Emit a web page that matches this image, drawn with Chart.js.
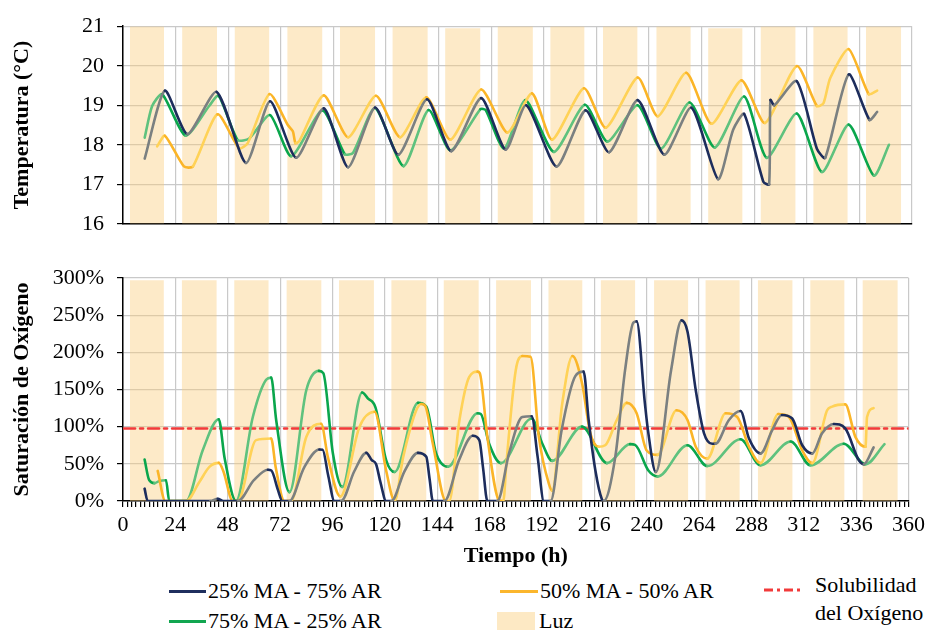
<!DOCTYPE html>
<html>
<head>
<meta charset="utf-8">
<script src="https://cdn.jsdelivr.net/npm/chart.js@4.4.0/dist/chart.umd.min.js"></script>
<style>
  body { margin: 0; background: #fff; width: 930px; height: 633px; position: relative; overflow: hidden;
         font-family: 'Liberation Serif', 'DejaVu Serif', serif; }
  canvas { position: absolute; left: 0; }
  #top { top: 0; }
  #bot { top: 250px; }
  .leg { position: absolute; font-size: 22px; line-height: 24px; color: #000; white-space: nowrap; }
  .sw { position: absolute; height: 3px; }
</style>
</head>
<body>
<canvas id="top" width="930" height="250"></canvas>
<canvas id="bot" width="930" height="320"></canvas>

<div class="sw" style="left:169px;top:590px;width:37px;background:#1f2f5e"></div>
<div class="leg" style="left:208px;top:579px">25% MA - 75% AR</div>
<div class="sw" style="left:169px;top:620px;width:37px;background:#12a650"></div>
<div class="leg" style="left:208px;top:609px">75% MA - 25% AR</div>
<div class="sw" style="left:500px;top:590px;width:38px;background:#fbb62d"></div>
<div class="leg" style="left:540px;top:579px">50% MA - 50% AR</div>
<div style="position:absolute;left:497px;top:612px;width:38px;height:18px;background:#fde9c4"></div>
<div class="leg" style="left:539px;top:609px">Luz</div>
<svg style="position:absolute;left:764px;top:586px" width="38" height="8">
  <line x1="0" y1="4" x2="38" y2="4" stroke="#f23a3a" stroke-width="3" stroke-dasharray="9 4 3 4"/>
</svg>
<div class="leg" style="left:815px;top:573px">Solubilidad</div>
<div class="leg" style="left:815px;top:601px">del Oxígeno</div>

<script>
// light periods (h)
const lightStart = [3.2, 27, 51, 75, 99, 123, 147, 171, 195, 219, 243.4, 267, 291, 315, 339];
const lightEnd   = [18.7, 42.9, 66.7, 90.9, 115, 139, 163, 187, 210.5, 234.7, 259, 282.6, 306.8, 330.6, 355];
const lightTopTemp = [21, 21, 21, 21, 21, 21, 20.95, 21, 21, 21, 21, 20.95, 21, 21, 21];
const lightTopSat = 297;

const solubility = 97.5;

// temperature (°C)
const tempA_h = [9.9,19.1,29.4,42.7,56.1,67.1,79,91.6,102.7,115,125.7,138.7,149.8,163.4,174.6,184,197.8,211,221.8,234.8,247,259.3,271.5,278.4,283.4,292.2,294.8,295.4,297.2,307.4,316.6,320.4,331.1,340.6,344.1];
const tempA   = [17.65,19.37,18.27,19.34,17.54,19.10,17.67,18.92,17.43,18.94,17.75,19.15,17.84,19.18,17.88,19.0,17.45,18.87,17.81,19.13,17.75,18.94,17.13,18.38,18.78,17.06,17.0,19.13,19.0,19.61,17.9,17.67,19.78,18.63,18.83];
const tempB_h = [15.6,19.1,27.8,31.9,43.1,53,56.9,66.8,75.2,77.5,78.7,80.5,91.6,102.7,115.4,126.4,138.4,149.4,163.4,175.4,186.6,195.8,210.3,220.3,234.8,244,257,268.5,282.2,292.9,307.4,316.6,319.6,322.7,331.1,340.3,344.1];
const tempB   = [17.96,18.23,17.45,17.45,18.77,17.91,18.04,19.28,18.5,18.34,18.04,18.1,19.25,18.19,19.24,18.19,19.2,18.13,19.40,18.31,19.30,18.13,19.43,18.43,19.70,18.72,19.82,18.53,19.63,18.55,19.99,18.98,19.05,19.69,20.42,19.28,19.37];
const tempC_h = [9.9,13.3,17.9,28.6,39.3,43.6,52.3,57.6,67.1,76.8,91,101.2,105,115,128,139.4,149.4,163.1,165.5,173.9,183.6,196.6,210.7,221,234.8,245.5,258.5,270,283.4,293.7,307.4,318.9,331.1,342.6,349.5];
const tempC   = [18.18,18.98,19.28,18.23,18.98,19.24,18.12,18.16,18.75,17.71,18.87,17.76,17.8,18.93,17.46,18.88,17.86,18.9,18.88,17.9,19.13,17.82,19.01,18.08,19.0,17.90,19.07,17.93,19.22,17.67,18.79,17.31,18.51,17.22,18.0];

// oxygen saturation (%)
const satA_h = [9.9,11.3,20,40,43.4,46,52.6,60,66.4,68,71,73,76.3,83,90,91.5,94,96.9,100,106,111.5,114,116,118,120.6,123,129,135.2,139,140.5,142,147.3,154,160.3,163.3,165,167,171.6,177,183,187.3,190,192.9,196,201,207.3,211.1,213.4,216.5,219.5,220.3,225.6,230.1,233.9,235.4,239.2,240.6,244.2,251.2,256,258.7,262.5,266.3,270,271.5,277.7,283,286.9,292.2,297.5,302,306.7,311.3,315.9,320.4,325.8,331,337.2,339.5,344];
const satA   = [16.6,0,0,0,3,0,0,28,42,41,15,0,0,45,69.3,69,35,0,0,40,64.8,55,49.5,25,0,0,40,64.8,59.4,30,0,0,55,87.7,81.9,45,0,0,65,113,114,60,0,0,95,168,174,109,41,2,0,59,176,240,241.6,131,95,39,176,243,228,149,91,77,77,109,121,84,64,95,115.6,111,75,64,91,103.5,97.6,55,49.5,72];
const satB_h = [15.9,19.4,28.9,35,39.6,43.9,46,50.3,52.6,61,67.9,70,74,77,84,90.8,93.9,99.6,108.4,115.3,120.6,124.5,128.4,134.4,136.7,138.5,142,148,149.5,154.2,158.7,162.5,163.5,167,172.4,174.3,175.7,180,183,186.8,190.6,195.2,196.7,201.3,206,210.4,214.2,218,221,226.3,230.9,235.4,240,245,253.7,258.7,262.5,267.8,276.2,281.5,286.9,292.2,300.3,305.2,311.3,315.9,322.7,325,331,335.7,340.3,341,344];
const satB   = [40.5,0,0,25.6,45.9,51.3,40,0,0,81.9,84,45,0,0,86,104,59,6,100,120,41,0,59,122,130.5,128,77,0,0,109,167,174,172,86,1,0,50,176,195,194,86,23,14,131,195,158,91,73,75,109,132,118,68,62,122,109,73,57,118,113,73,51,117,113,68,51,122,127,130,86,73,113,125];
const satC_h = [9.9,12,14.4,16.7,19.7,21.2,28.9,36.5,43.9,46.5,51.8,59.5,65.6,67.9,70.2,76.3,84,89.8,91.8,96.2,100.5,109.6,112.2,115.7,120.6,124.5,135.2,139,143.5,148.9,162.5,164,167.8,173.2,187.3,192.2,196.7,210.4,221.8,232.4,234.7,240.8,245,258.7,267.8,283,292.2,306,315.1,330.3,340.3,349];
const satC   = [55.8,28,24,27,28,0,0,68,110,59,0,113,163,166,109,12,149,175,172,64,19,146,138,126,55,39,132,127,64,46,118,117,77,51,111,77,54,100,51,76.5,75.5,41,33,75,47,83,48,80,48,77,49.5,76.5];

const xTicks = [0, 24, 48, 72, 96, 120, 144, 168, 192, 216, 240, 264, 288, 312, 336, 360];

const FONT = "'Liberation Serif', 'DejaVu Serif', serif";
const GRID = '#c9c9c9';

function pts(h, v) { return h.map((x, i) => ({ x, y: v[i] })); }

function series(h, v, up, down, smooth) {
  const ds = {
    data: pts(h, v),
    borderColor: down,
    segment: { borderColor: c => c.p1.parsed.y > c.p0.parsed.y ? up : down },
    borderWidth: 2.6,
    pointRadius: 0,
    fill: false,
    order: 1
  };
  if (smooth) ds.cubicInterpolationMode = 'monotone';
  else ds.tension = 0.22;
  return ds;
}

function bands(tops, bottom) {
  const d = [{ x: 0, y: bottom }];
  lightStart.forEach((s, i) => {
    const t = Array.isArray(tops) ? tops[i] : tops;
    d.push({ x: s, y: bottom }, { x: s, y: t }, { x: lightEnd[i], y: t }, { x: lightEnd[i], y: bottom });
  });
  d.push({ x: 360, y: bottom });
  return {
    data: d, borderWidth: 0, pointRadius: 0, tension: 0,
    fill: 'start', backgroundColor: 'rgba(250,205,125,0.42)', order: 10
  };
}

const common = {
  responsive: false,
  animation: false,
  devicePixelRatio: 1,
  plugins: { legend: { display: false }, tooltip: { enabled: false } },
  elements: { line: { borderCapStyle: 'round', borderJoinStyle: 'round' } }
};

function yAxis(min, max, step, title, fmt) {
  return {
    min, max,
    afterFit: s => { s.width = 123; },
    ticks: { stepSize: step, color: '#000', font: { family: FONT, size: 22 }, padding: 13, callback: fmt },
    grid: { color: GRID, lineWidth: 1.2, tickLength: 6, tickColor: '#000', tickWidth: 1.2 },
    border: { color: '#000', width: 1.5 },
    title: { display: true, text: title, color: '#000', font: { family: FONT, size: 22, weight: 'bold' }, padding: { top: 9, bottom: 0 } }
  };
}

new Chart(document.getElementById('top'), {
  type: 'line',
  data: {
    datasets: [
      series(tempA_h, tempA, '#7b8081', '#1d2d5c', false),
      series(tempB_h, tempB, '#ffd257', '#fbb528', false),
      series(tempC_h, tempC, '#5fc27e', '#0aa64c', false),
      bands(lightTopTemp, 16)
    ]
  },
  options: {
    ...common,
    layout: { padding: { top: 17, right: 18, left: 0, bottom: 0 } },
    scales: {
      x: {
        type: 'linear', min: 0, max: 360,
        afterFit: s => { s.height = 9; },
        afterBuildTicks: s => { s.ticks = xTicks.map(v => ({ value: v })); },
        ticks: { display: false },
        grid: { color: GRID, lineWidth: 1.2, drawTicks: false },
        border: { color: '#000', width: 1.5 }
      },
      y: yAxis(16, 21, 1, 'Temperatura (°C)', v => v)
    }
  }
});

const minorTicks = [];
for (let v = 0; v <= 360; v += 2) minorTicks.push(v);

new Chart(document.getElementById('bot'), {
  type: 'line',
  data: {
    datasets: [
      series(satA_h, satA, '#7b8081', '#1d2d5c', true),
      series(satB_h, satB, '#ffd257', '#fbb528', true),
      series(satC_h, satC, '#5fc27e', '#0aa64c', true),
      {
        data: [{ x: 0.5, y: solubility }, { x: 360, y: solubility }],
        borderColor: '#f23a3a', borderWidth: 2.6, borderDash: [11, 5, 3, 5],
        pointRadius: 0, fill: false, order: 2
      },
      bands(lightTopSat, 0)
    ]
  },
  options: {
    ...common,
    layout: { padding: { top: 28, right: 18, left: 0, bottom: 0 } },
    scales: {
      x: {
        type: 'linear', min: 0, max: 360,
        afterFit: s => { s.height = 69; },
        afterBuildTicks: s => { s.ticks = minorTicks.map(v => ({ value: v })); },
        ticks: {
          autoSkip: false, maxRotation: 0, minRotation: 0, padding: 5,
          color: '#000', font: { family: FONT, size: 22 },
          callback: v => (v % 24 === 0 ? v : '')
        },
        grid: {
          color: c => (c.tick && c.tick.value % 24 === 0 ? GRID : 'rgba(0,0,0,0)'),
          lineWidth: 1.2, tickLength: 6, tickColor: '#000', tickWidth: 1.2
        },
        border: { color: '#000', width: 1.5 },
        title: { display: true, text: 'Tiempo (h)', color: '#000', font: { family: FONT, size: 22, weight: 'bold' }, padding: { top: 0, bottom: 0 } }
      },
      y: yAxis(0, 300, 50, 'Saturación de Oxígeno', v => v + '%')
    }
  }
});
</script>
</body>
</html>
